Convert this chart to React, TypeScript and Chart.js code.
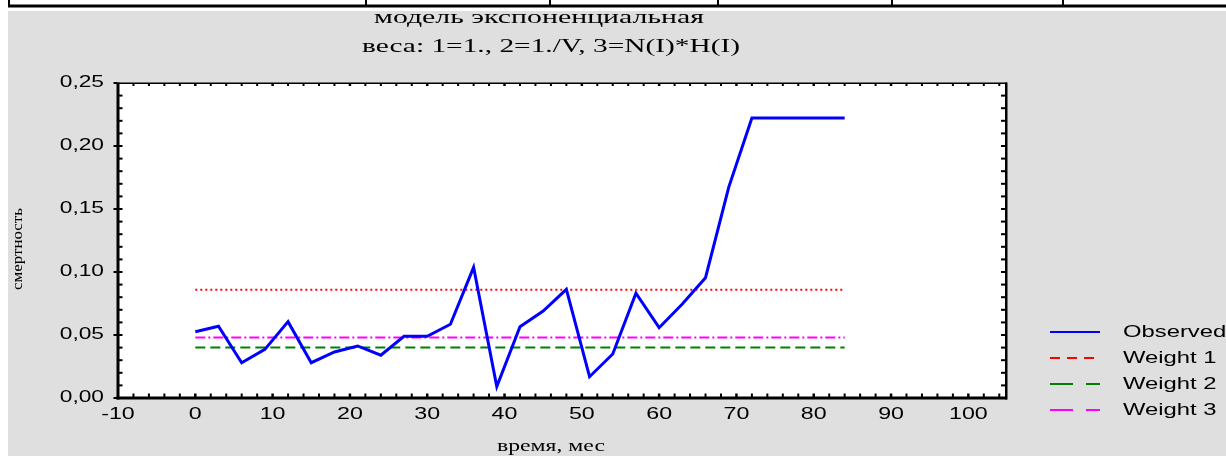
import React, { useEffect, useRef } from "react";
import { Chart, registerables } from "chart.js";

Chart.register(...registerables);

// ---------- data ----------
const TITLE_LINES = ["модель экспоненциальная", "веса: 1=1., 2=1./V, 3=N(I)*H(I)"];
const X_TITLE = "время, мес";
const Y_TITLE = "смертность";

const TIME = [0, 3, 6, 9, 12, 15, 18, 21, 24, 27, 30, 33, 36, 39, 42, 45, 48, 51, 54, 57, 60, 63, 66, 69, 72, 75, 78, 81, 84];
const OBSERVED = [
  0.0526, 0.0569, 0.028, 0.0386, 0.0606, 0.028, 0.0365, 0.0413, 0.034, 0.049,
  0.049, 0.0585, 0.1037, 0.009, 0.0566, 0.069, 0.0862, 0.0169, 0.0349, 0.0832,
  0.0558, 0.0746, 0.0955, 0.1672, 0.2222, 0.2222, 0.2222, 0.2222, 0.2222,
];
const WEIGHT_1 = [0.086, 0.086];
const WEIGHT_2 = [0.04, 0.04];
const WEIGHT_3 = [0.048, 0.048];
const WEIGHT_X = [0, 84];

const X_TICKS = [-10, 0, 10, 20, 30, 40, 50, 60, 70, 80, 90, 100];
const Y_TICKS = [0, 0.05, 0.1, 0.15, 0.2, 0.25];
const Y_TICK_LABELS = ["0,00", "0,05", "0,10", "0,15", "0,20", "0,25"];
const LEGEND_LABELS = ["Observed", "Weight 1", "Weight 2", "Weight 3"];

// ---------- helpers ----------
function drawStretched(
  ctx: CanvasRenderingContext2D,
  text: string,
  x: number,
  y: number,
  font: string,
  align: "left" | "center" | "right",
  sx: number
) {
  ctx.save();
  ctx.font = font;
  ctx.textBaseline = "middle";
  ctx.textAlign = "left";
  const w = ctx.measureText(text).width * sx;
  const left = align === "center" ? x - w / 2 : align === "right" ? x - w : x;
  ctx.translate(left, y);
  ctx.scale(sx, 1);
  ctx.fillStyle = "#000";
  ctx.fillText(text, 0, 0);
  ctx.restore();
}

function widthScale(ctx: CanvasRenderingContext2D, text: string, font: string, target: number) {
  ctx.save();
  ctx.font = font;
  const w = ctx.measureText(text).width;
  ctx.restore();
  return target / w;
}

const SANS = "'Liberation Sans', Arial, sans-serif";
const SERIF = "'Liberation Serif', 'Times New Roman', serif";

const framePlugin = {
  id: "framePlugin",
  beforeDraw(chart: any) {
    const ctx: CanvasRenderingContext2D = chart.ctx;
    const W = chart.width;
    const H = chart.height;
    const a = chart.chartArea;
    ctx.save();
    ctx.fillStyle = "#ffffff";
    ctx.fillRect(0, 0, W, H);
    ctx.fillStyle = "#dfdfdf";
    ctx.fillRect(8, 11, W - 8, H - 11);
    // top table strip
    ctx.fillStyle = "#000";
    ctx.fillRect(8, 4.5, W - 8, 3);
    ctx.fillRect(8, 0, 2, 7);
    [365, 549, 717, 891, 1062].forEach((x) => ctx.fillRect(x, 0, 2, 6));
    // plot background
    ctx.fillStyle = "#ffffff";
    ctx.fillRect(a.left, a.top, a.right - a.left, a.bottom - a.top);
    ctx.restore();
  },
  afterDraw(chart: any) {
    const ctx: CanvasRenderingContext2D = chart.ctx;
    const a = chart.chartArea;
    const xs = chart.scales.x;
    const ys = chart.scales.y;
    ctx.save();
    ctx.fillStyle = "#000";
    // frame
    ctx.fillRect(a.left - 1.5, a.top - 0.5, 3, a.bottom - a.top + 2);
    ctx.fillRect(a.left - 1.5, a.bottom - 1.5, a.right - a.left + 1.5, 3);
    ctx.fillRect(a.right - 2, a.top - 0.5, 2.5, a.bottom - a.top + 2);
    ctx.fillRect(a.left, a.top - 0.5, a.right - a.left, 1.5);
    // x ticks every 2
    for (let v = -10; v <= 105; v += 2) {
      const px = xs.getPixelForValue(v);
      if (px <= a.left + 1 || px >= a.right - 1) continue;
      const major = v % 10 === 0;
      const tw = major ? 2.5 : 2;
      ctx.fillRect(px - tw / 2, a.bottom - 4.5, tw, 3.5);
      ctx.fillRect(px - tw / 2, a.top, tw, 3);
    }
    // y ticks every 0.01
    for (let i = 0; i <= 25; i++) {
      const py = ys.getPixelForValue(i / 100);
      const major = i % 5 === 0;
      if (i > 0 && i < 25) {
        ctx.fillRect(a.left, py - 1, 4.5, 2);
        ctx.fillRect(a.right - 6, py - 1, 4.5, 2);
      }
      if (major) ctx.fillRect(a.left - 4.5, py - 1, 4, 2);
    }
    // tick labels
    const tickFont = `16px ${SANS}`;
    X_TICKS.forEach((v) => {
      drawStretched(ctx, String(v), xs.getPixelForValue(v), 415, tickFont, "center", 1.45);
    });
    Y_TICKS.forEach((v, i) => {
      drawStretched(ctx, Y_TICK_LABELS[i], a.left - 14, ys.getPixelForValue(v), tickFont, "right", 1.42);
    });
    // titles
    const t1Font = `18px ${SERIF}`;
    drawStretched(ctx, TITLE_LINES[0], 539, 18, t1Font, "center", widthScale(ctx, TITLE_LINES[0], t1Font, 330));
    drawStretched(ctx, TITLE_LINES[1], 551, 47, t1Font, "center", widthScale(ctx, TITLE_LINES[1], t1Font, 378));
    const axFont = `17px ${SERIF}`;
    drawStretched(ctx, X_TITLE, 551, 447, axFont, "center", widthScale(ctx, X_TITLE, axFont, 108));
    const yFont = `15px ${SERIF}`;
    ctx.save();
    ctx.translate(18, 249);
    ctx.rotate(-Math.PI / 2);
    drawStretched(ctx, Y_TITLE, 0, 0, yFont, "center", widthScale(ctx, Y_TITLE, yFont, 82));
    ctx.restore();
    // legend
    const legendDash = [[], [10, 7], [23, 13], [23, 13]];
    chart.data.datasets.forEach((ds: any, i: number) => {
      const y = 332 + i * 26;
      ctx.save();
      ctx.strokeStyle = ds.borderColor;
      ctx.lineWidth = 2;
      ctx.setLineDash(legendDash[i]);
      ctx.beginPath();
      ctx.moveTo(1050, y);
      ctx.lineTo(1100, y);
      ctx.stroke();
      ctx.restore();
      drawStretched(ctx, LEGEND_LABELS[i], 1123, y, `17px ${SANS}`, "left", 1.4);
    });
    ctx.restore();
  },
};

export default function App() {
  const ref = useRef<HTMLCanvasElement | null>(null);
  useEffect(() => {
    if (!ref.current) return;
    const pts = (xsArr: number[], ysArr: number[]) => xsArr.map((x, i) => ({ x, y: ysArr[i] }));
    const chart = new Chart(ref.current, {
      type: "line",
      data: {
        datasets: [
          {
            label: LEGEND_LABELS[0],
            data: pts(TIME, OBSERVED),
            borderColor: "#0000ff",
            borderWidth: 3,
            pointRadius: 0,
            tension: 0,
            order: 0,
          },
          {
            label: LEGEND_LABELS[1],
            data: pts(WEIGHT_X, WEIGHT_1),
            borderColor: "#ff0000",
            borderWidth: 2,
            borderDash: [2, 3],
            pointRadius: 0,
            order: 1,
          },
          {
            label: LEGEND_LABELS[2],
            data: pts(WEIGHT_X, WEIGHT_2),
            borderColor: "#008000",
            borderWidth: 2,
            borderDash: [10, 5],
            pointRadius: 0,
            order: 2,
          },
          {
            label: LEGEND_LABELS[3],
            data: pts(WEIGHT_X, WEIGHT_3),
            borderColor: "#ff00ff",
            borderWidth: 2,
            borderDash: [10, 3, 2, 3],
            pointRadius: 0,
            order: 3,
          },
        ],
      },
      options: {
        responsive: false,
        animation: false,
        devicePixelRatio: 1,
        layout: { padding: { left: 118, top: 83, right: 219, bottom: 58 } },
        scales: {
          x: { type: "linear", min: -10, max: 105, display: false },
          y: { type: "linear", min: 0, max: 0.25, display: false },
        },
        plugins: {
          legend: { display: false },
          title: { display: false },
          tooltip: { enabled: false },
        },
      },
      plugins: [framePlugin],
    });
    return () => chart.destroy();
  }, []);
  return (
    <div style={{ position: "absolute", left: 0, top: 0, width: 1226, height: 456, overflow: "hidden" }}>
      <canvas ref={ref} width={1226} height={456} style={{ display: "block", width: 1226, height: 456 }} />
    </div>
  );
}
